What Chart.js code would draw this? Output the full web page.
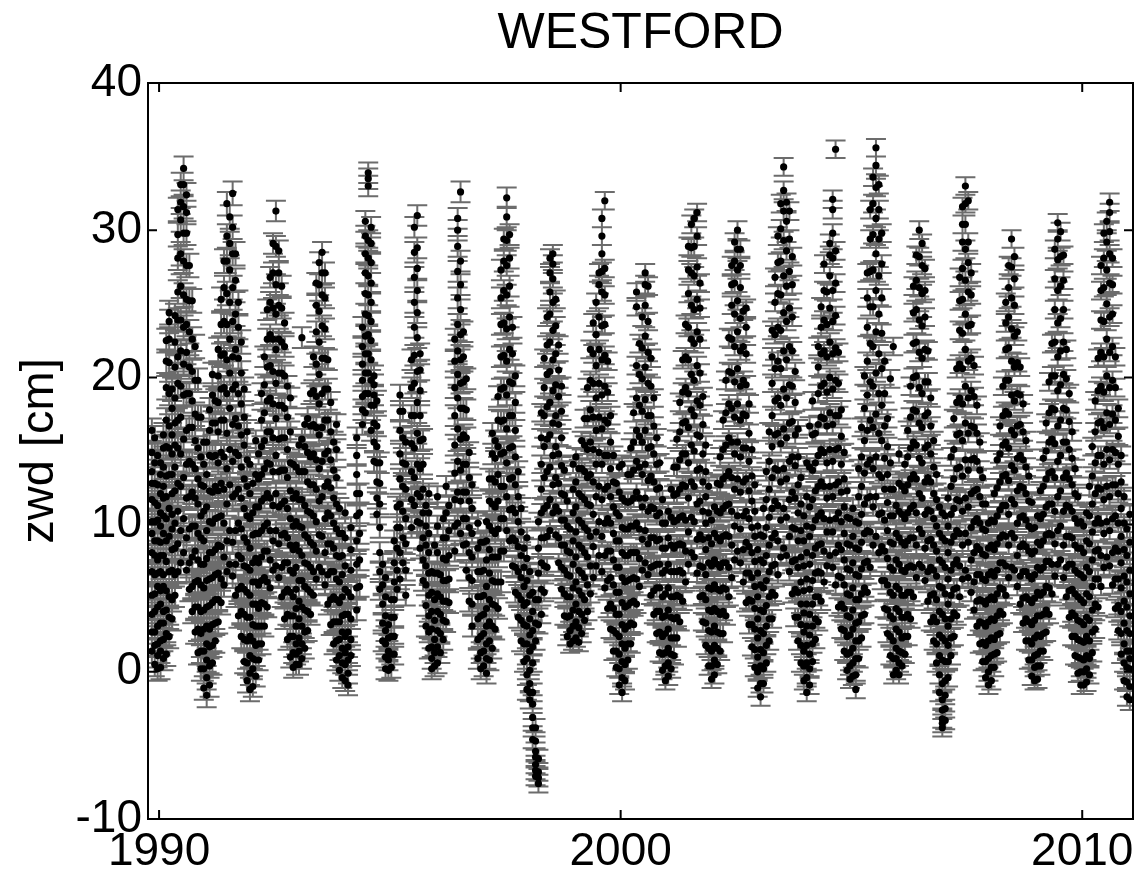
<!DOCTYPE html>
<html>
<head>
<meta charset="utf-8">
<script src="https://cdn.jsdelivr.net/npm/chart.js@4"></script>
<style>
  html, body { margin: 0; background: #fff; }
  #wrap { width: 1146px; height: 881px; }
</style>
</head>
<body>
<div id="wrap"><canvas id="chart"></canvas></div>
<script>
// zwd values in mm, one array per year,
// each year split in 16 slots, slot i sits at year + (i + 0.5) / 16
const zwd1989 = [[],[],[],[],[],[],[],[],[],[],[],[],[],
  [14, 27, 39, 52, 68, 81, 94, 102, 117, 128, 136, 149, 164],
  [5, 18, 27, 41, 53, 66, 79, 89, 102, 115, 128, 142, 159],
  [2, 11, 19, 31, 44, 58, 67, 76, 89, 103, 113, 127, 147]];
const zwd1990 = [
  [3, 14, 21, 33, 46, 55, 68, 79, 88, 99, 108, 121, 134, 142],
  [9, 22, 33, 41, 58, 66, 79, 94, 106, 118, 126, 139, 152, 161],
  [12, 26, 42, 55, 75, 89, 104, 119, 133, 153, 171, 193, 211, 225],
  [24, 37, 51, 68, 92, 111, 134, 152, 167, 189, 210, 226, 238, 244],
  [36, 49, 69, 83, 97, 107, 121, 134, 148, 161, 179, 192],
  [52, 66, 84, 101, 123, 139, 154, 169, 186, 207, 224, 242],
  [68, 87, 109, 128, 152, 171, 196, 214, 239, 258, 281, 297, 314],
  [74, 96, 126, 148, 173, 194, 218, 239, 262, 284, 307, 319, 331],
  [81, 104, 132, 158, 188, 209, 234, 256, 279, 298, 316, 331, 342],
  [69, 91, 118, 141, 164, 189, 217, 236, 253, 276, 298, 312, 324],
  [56, 74, 97, 119, 143, 166, 189, 207, 231, 252, 276],
  [41, 58, 78, 99, 122, 141, 166, 184, 204, 226, 252],
  [27, 44, 61, 82, 99, 118, 138, 157, 175, 198, 221],
  [13, 29, 44, 62, 76, 94, 114, 131, 152, 173, 198],
  [2, 14, 26, 41, 59, 73, 91, 106, 127, 146, 173],
  [-11, 2, 14, 29, 42, 57, 73, 89, 109, 126, 141, 156]];
const zwd1991 = [
  [-16, -4, 8, 19, 31, 44, 62, 77, 96, 112, 134, 156],
  [-9, 4, 17, 29, 45, 63, 81, 102, 123, 147, 164, 178],
  [6, 18, 32, 47, 64, 81, 101, 122, 146, 169, 188, 202],
  [21, 33, 49, 66, 83, 104, 126, 147, 169, 184],
  [34, 49, 67, 86, 105, 123, 142, 163, 183, 201, 219],
  [47, 63, 85, 106, 128, 149, 171, 192, 215, 236, 253],
  [59, 78, 101, 124, 146, 171, 193, 216, 238, 261, 279],
  [68, 89, 114, 138, 162, 189, 212, 236, 257, 279, 296, 318],
  [73, 96, 127, 151, 179, 203, 226, 251, 273, 291, 309],
  [65, 88, 119, 143, 168, 192, 214, 238, 261, 284, 302, 325],
  [52, 73, 96, 121, 149, 172, 195, 219, 243, 266, 284],
  [38, 56, 79, 101, 124, 147, 167, 189, 213, 234, 251],
  [24, 41, 58, 77, 97, 118, 139, 161, 182, 203, 224],
  [7, 22, 39, 56, 72, 91, 111, 131, 154, 173, 192],
  [-6, 6, 21, 37, 54, 71, 88, 106, 126, 144, 163],
  [-12, -1, 11, 24, 37, 52, 69, 84, 104, 121, 141]];
const zwd1992 = [
  [-10, 2, 9, 21, 32, 46, 61, 74, 93, 108, 128],
  [-3, 8, 18, 31, 46, 61, 77, 94, 112, 134, 157],
  [8, 19, 31, 43, 59, 74, 94, 112, 131, 148],
  [19, 31, 47, 62, 78, 96, 116, 134, 153, 171, 189],
  [31, 46, 64, 82, 99, 118, 138, 157, 176, 195, 214],
  [44, 61, 82, 101, 121, 142, 163, 184, 207, 226, 246],
  [57, 76, 96, 118, 141, 163, 186, 208, 229, 251, 268],
  [69, 89, 113, 136, 159, 182, 204, 226, 247, 271, 291],
  [72, 96, 121, 147, 172, 196, 219, 243, 263, 289, 313],
  [64, 87, 112, 136, 158, 181, 203, 226, 249, 271, 286],
  [51, 71, 93, 114, 137, 159, 181, 203, 224, 247, 262],
  [36, 54, 74, 94, 116, 137, 159, 179, 201, 221, 237],
  [22, 39, 56, 74, 91, 111, 132, 151, 173, 194],
  [10, 24, 38, 54, 69, 86, 104, 123, 142, 163, 186],
  [3, 13, 24, 38, 51, 67, 83, 99, 118, 141],
  [5, 12, 19, 31, 43, 56, 71, 86, 102, 121, 139]];
const zwd1993 = [
  [5, 14, 23, 36, 48, 62, 82, 99, 117, 136, 154],
  [9, 19, 31, 44, 62, 79, 98, 117, 136, 158, 227],
  [16, 27, 42, 58, 74, 93, 113, 136, 153, 168],
  [28, 41, 56, 73, 91, 109, 129, 149, 172],
  [39, 54, 71, 88, 108, 127, 146, 167, 189],
  [52, 68, 86, 106, 127, 148, 168, 191, 214],
  [63, 82, 102, 124, 144, 166, 187, 209, 231, 249, 264],
  [71, 93, 116, 138, 161, 182, 202, 224, 245, 263, 278],
  [68, 92, 119, 143, 166, 189, 213, 235, 256, 271, 285],
  [59, 81, 104, 126, 148, 171, 192, 213, 233, 254, 271],
  [46, 66, 87, 108, 129, 150, 171, 192, 212],
  [32, 49, 68, 87, 106, 125, 144, 163, 183],
  [19, 34, 51, 68, 84, 101, 118, 137, 156],
  [8, 21, 34, 49, 63, 79, 97, 114, 132, 151, 168],
  [1, 11, 22, 34, 47, 61, 78, 94, 111],
  [-4, 6, 16, 27, 38, 51, 66, 79, 94]];
const zwd1994 = [
  [-6, 5, 13, 24, 39, 56, 72, 91, 108],
  [-9, -1, 8, 17, 27, 39, 54],
  [11, 22, 36, 51, 69, 83, 98],
  [],
  [42, 57, 73, 89, 106, 121, 134, 147, 159],
  [58, 76, 94, 108, 121],
  [168, 178, 187, 198, 209, 221, 234],
  [176, 189, 203, 216, 228, 243, 257, 271, 284, 296, 306],
  [189, 203, 216, 229, 242, 256, 269, 281, 293, 330, 335, 339],
  [164, 181, 198, 212, 225, 238, 251, 264, 278, 291, 302],
  [143, 156, 169, 181, 188, 195, 201],
  [107, 118, 129, 142, 153, 167, 184],
  [56, 68, 81, 98, 114, 128, 142],
  [21, 33, 46, 59, 73],
  [2, 10, 19, 28, 38, 51, 64],
  [1, 8, 14, 23, 32]];
const zwd1995 = [
  [3, 12, 24, 37, 49],
  [12, 24, 37, 49, 61, 74, 89],
  [56, 69, 84, 98, 112],
  [63, 81, 98, 114, 131, 148, 164, 177, 188],
  [74, 91, 109, 126, 142, 159, 177],
  [52, 69, 87, 104, 124, 141, 156],
  [],
  [98, 117, 136, 155, 174, 193, 212],
  [113, 132, 152, 174, 196, 215, 234, 251, 268, 285, 302],
  [102, 121, 141, 162, 183, 204, 227, 244, 259, 274, 288, 310],
  [84, 101, 119, 138, 157, 174, 191, 205, 216],
  [62, 76, 91, 108, 124, 141, 158],
  [31, 45, 59, 72, 86, 99, 113],
  [16, 27, 38, 52, 67, 81, 94, 108, 121],
  [2, 9, 17, 29, 41, 54, 68],
  [4, 13, 22, 35, 49, 67, 86]];
const zwd1996 = [
  [6, 17, 28, 41, 53, 67, 81, 99, 119],
  [13, 26, 39, 51, 66],
  [22, 35, 48, 62, 77, 91, 104],
  [34, 48, 62, 76, 91, 108, 126],
  [47, 63, 79, 96, 113],
  [],
  [82, 99, 117, 135, 154, 174, 193, 211, 226],
  [101, 122, 143, 165, 186, 202, 218, 236, 254, 272, 289, 300, 308],
  [94, 116, 137, 158, 179, 196, 212, 229, 246, 263, 279, 326],
  [86, 104, 122, 141, 161, 179, 197, 214, 231],
  [69, 87, 104, 122, 141, 159, 178, 199],
  [48, 64, 81, 98, 116, 132, 149],
  [31, 46, 62, 78, 94, 111, 127],
  [],
  [9, 22, 36, 51, 68, 84, 101],
  [2, 13, 24, 38, 51, 68, 88]];
const zwd1997 = [
  [4, 14, 26, 39, 52, 69, 88],
  [-1, 9, 19, 31, 43, 58, 76, 89, 102],
  [8, 21, 34, 49, 67, 83, 99, 116, 131],
  [16, 31, 46, 62, 78, 96, 114, 131, 148, 162],
  [29, 45, 61, 78, 94, 112, 129, 145, 157],
  [43, 61, 78, 97, 116, 134, 153, 171, 187],
  [61, 82, 104, 126, 148, 170, 192, 214, 236, 254, 273],
  [82, 104, 126, 149, 171, 193, 215, 237, 259, 279, 294],
  [96, 119, 142, 165, 188, 211, 233, 256, 276, 293, 309, 322],
  [89, 110, 131, 152, 174, 197, 219, 241, 262, 281, 297],
  [72, 91, 111, 132, 153, 174, 196, 216, 234],
  [54, 71, 89, 108, 127, 146, 164, 183, 201],
  [37, 52, 68, 85, 102, 119, 136],
  [21, 35, 49, 64, 79, 95, 111],
  [7, 19, 32, 45, 58, 71, 84],
  [-12, -2, 9, 19, 31, 47, 62, 77, 91]];
const zwd1998 = [
  [-19, -14, -8, 1, 14, 25, 36, 52, 68],
  [-46, -38, -31, -22, -14, 6, 17, 28, 41, 54],
  [-71, -67, -63, -58, -54, -47, -38, 21, 33, 49],
  [-76, -72, -68, -59, 32, 49, 67, 84, 102],
  [39, 56, 74, 91, 108, 124, 141, 159, 176],
  [54, 72, 91, 111, 132, 153, 174, 193, 213],
  [71, 92, 113, 136, 158, 180, 202, 222, 241],
  [96, 117, 139, 161, 183, 204, 224, 243, 258, 271, 281],
  [108, 127, 147, 169, 191, 212, 232, 251, 267, 277, 284],
  [93, 112, 132, 153, 174, 195, 216, 235, 253],
  [74, 91, 109, 128, 148, 168, 187, 205, 222],
  [56, 71, 86, 103, 121, 140, 159, 177, 194],
  [38, 53, 69, 86, 103, 120, 137],
  [24, 37, 51, 66, 82, 99, 116],
  [19, 28, 38, 51, 65, 81, 97],
  [21, 31, 42, 57, 73, 89, 108, 124, 141]];
const zwd1999 = [
  [23, 34, 46, 61, 78, 95, 112, 129, 146],
  [20, 30, 41, 55, 69, 86, 103, 121, 138],
  [26, 39, 52, 67, 84, 101, 119, 138, 157],
  [35, 49, 64, 81, 98, 117, 136, 154, 172],
  [41, 59, 78, 96, 114, 132, 151, 172, 193],
  [53, 72, 92, 113, 134, 156, 178, 198, 219],
  [64, 85, 107, 129, 151, 173, 196, 216, 237],
  [72, 95, 119, 141, 164, 186, 208, 229, 251],
  [79, 102, 126, 149, 173, 196, 219, 241, 263, 271],
  [68, 92, 117, 141, 165, 188, 212, 235, 258, 272, 284, 296, 308],
  [57, 79, 101, 124, 147, 171, 194, 215, 236, 256, 274, 320],
  [43, 62, 82, 104, 126, 147, 169, 190, 211],
  [29, 46, 64, 82, 101, 119, 138, 156, 174],
  [14, 28, 43, 59, 76, 94, 112, 129, 147],
  [3, 14, 26, 39, 54, 71, 89, 108, 128],
  [-9, 2, 12, 24, 39, 54, 71, 89, 106, 122, 139]];
const zwd2000 = [
  [-14, -4, 7, 19, 32, 47, 64, 81, 98, 118, 141],
  [-6, 5, 16, 29, 44, 61, 79, 97, 116],
  [8, 19, 31, 45, 62, 79, 97, 115, 134],
  [19, 33, 47, 63, 81, 99, 116, 134, 152],
  [32, 48, 64, 81, 99, 118, 137, 156, 176],
  [46, 63, 81, 101, 122, 143, 164, 186, 208, 248, 258],
  [58, 77, 97, 118, 139, 160, 181, 202, 223],
  [69, 90, 112, 134, 156, 177, 199, 220, 241],
  [74, 96, 118, 141, 164, 185, 207, 228, 249, 263, 271],
  [66, 87, 109, 130, 152, 174, 196, 217, 238, 262],
  [52, 71, 91, 112, 133, 153, 174, 194, 213],
  [39, 55, 72, 91, 111, 129, 148, 167, 186],
  [26, 41, 57, 73, 89, 106, 124, 141, 159],
  [13, 27, 41, 57, 73, 90, 108, 125, 142],
  [1, 12, 24, 37, 51, 67, 84, 101, 117],
  [-6, 4, 13, 26, 38, 53, 69, 84, 101]];
const zwd2001 = [
  [-3, 6, 16, 29, 42, 57, 73, 91, 109],
  [2, 12, 23, 37, 51, 68, 86, 105, 124],
  [11, 23, 36, 51, 68, 84, 102, 120, 139],
  [23, 37, 52, 68, 86, 103, 121, 139, 158],
  [34, 51, 69, 87, 105, 124, 144, 163, 183],
  [48, 67, 86, 106, 127, 148, 169, 190, 212],
  [61, 82, 103, 126, 148, 170, 193, 214, 236],
  [73, 95, 118, 142, 166, 189, 212, 234, 257, 273, 289],
  [81, 105, 129, 154, 178, 202, 226, 249, 271, 288, 304],
  [78, 102, 126, 150, 174, 198, 223, 246, 269, 289, 308],
  [67, 90, 114, 137, 161, 184, 208, 231, 253, 275, 296, 312],
  [51, 72, 93, 116, 138, 160, 181, 203, 226, 247, 264],
  [34, 52, 71, 90, 109, 129, 148, 168, 187],
  [18, 33, 49, 66, 83, 101, 119, 136, 154],
  [4, 16, 28, 42, 57, 74, 91, 108, 126],
  [-5, 4, 14, 27, 41, 56, 72, 87, 103]];
const zwd2002 = [
  [-2, 8, 18, 31, 43, 59, 76, 94, 112],
  [5, 16, 27, 41, 56, 73, 91, 109, 128],
  [14, 26, 39, 55, 71, 89, 108, 127, 146],
  [26, 41, 57, 74, 92, 111, 131, 151, 171],
  [38, 56, 74, 93, 113, 133, 154, 176, 198],
  [51, 71, 92, 114, 136, 159, 182, 204, 227],
  [64, 86, 109, 132, 156, 179, 203, 226, 249, 263, 276],
  [76, 99, 124, 148, 173, 197, 221, 243, 264, 279, 292],
  [82, 106, 131, 156, 182, 206, 231, 252, 273, 287, 300],
  [74, 97, 122, 146, 171, 194, 218, 240, 261, 276, 287],
  [61, 83, 106, 129, 152, 175, 198, 221, 245],
  [47, 67, 88, 109, 131, 152, 174, 195, 216, 234, 247],
  [32, 49, 67, 85, 104, 123, 143, 162, 182],
  [17, 32, 48, 64, 81, 98, 116, 133, 151],
  [3, 15, 29, 43, 58, 75, 92, 109, 127],
  [-11, 0, 10, 23, 36, 51, 67, 83, 99]];
const zwd2003 = [
  [-17, -8, 4, 15, 28, 42, 59, 76, 93],
  [-8, 2, 13, 26, 41, 57, 74, 92, 111],
  [6, 18, 31, 45, 62, 79, 98, 117, 136],
  [21, 36, 51, 68, 86, 105, 124, 143, 163],
  [36, 54, 72, 91, 111, 132, 153, 174, 196, 214, 232],
  [52, 73, 94, 116, 138, 161, 184, 206, 229, 251, 268],
  [66, 89, 113, 137, 162, 186, 211, 234, 257, 278, 296],
  [78, 103, 129, 155, 181, 206, 232, 256, 279, 301, 318],
  [84, 111, 138, 165, 192, 218, 244, 269, 293, 313, 327, 343],
  [79, 105, 131, 159, 186, 212, 238, 262, 286, 306, 319],
  [68, 92, 117, 143, 169, 195, 221, 247, 272, 294, 313],
  [53, 75, 98, 122, 146, 170, 194, 218, 241, 263, 282],
  [37, 56, 76, 97, 118, 140, 161, 183, 204],
  [21, 37, 54, 71, 89, 108, 127, 146, 165],
  [6, 18, 32, 46, 61, 78, 96, 114, 132],
  [-6, 4, 14, 27, 40, 55, 72, 89, 106]];
const zwd2004 = [
  [-14, -4, 6, 18, 31, 46, 63, 81, 99, 119, 142],
  [-9, 2, 12, 25, 39, 56, 73, 92, 112, 139, 167],
  [7, 19, 31, 46, 62, 79, 98, 117, 137, 161, 184],
  [22, 36, 51, 67, 84, 103, 123, 142, 162],
  [34, 51, 68, 86, 106, 126, 147, 168, 189, 207, 221],
  [48, 67, 87, 108, 129, 151, 173, 194, 216, 234, 248],
  [61, 82, 104, 126, 149, 172, 196, 218, 239, 259, 277],
  [72, 95, 118, 142, 167, 190, 214, 236, 258],
  [79, 103, 126, 151, 176, 200, 224, 247, 269, 283, 291],
  [71, 95, 119, 143, 168, 192, 216, 238, 259, 281, 298, 314, 321],
  [59, 81, 104, 127, 151, 174, 198, 220, 242, 264, 286, 355],
  [44, 65, 86, 108, 129, 152, 174, 196, 217],
  [29, 46, 64, 83, 102, 122, 141, 160, 178],
  [14, 28, 43, 59, 76, 94, 112, 131, 149],
  [1, 12, 24, 38, 53, 70, 87, 105, 123],
  [-5, 4, 13, 25, 37, 52, 69, 86, 104]];
const zwd2005 = [
  [-3, 6, 16, 29, 42, 57, 74, 92, 111],
  [-12, -2, 9, 21, 33, 49, 66, 84, 102],
  [9, 21, 34, 49, 65, 83, 101, 119, 138],
  [23, 38, 53, 70, 88, 107, 126, 146, 166],
  [39, 57, 74, 94, 114, 135, 157, 179, 201],
  [54, 75, 96, 118, 141, 164, 188, 211, 234, 254, 271],
  [71, 95, 119, 144, 171, 197, 223, 248, 272, 294, 314],
  [86, 112, 138, 166, 194, 221, 248, 273, 297, 318, 336],
  [92, 119, 146, 175, 203, 231, 259, 284, 308, 329, 344, 356],
  [81, 107, 134, 162, 189, 216, 243, 269, 294, 314, 331],
  [62, 85, 108, 132, 157, 181, 206, 230, 254, 277, 298],
  [43, 62, 82, 103, 124, 145, 167, 189, 211],
  [26, 42, 59, 77, 96, 115, 134, 153, 172],
  [11, 24, 38, 54, 71, 88, 106, 124, 142, 199],
  [-2, 9, 21, 36, 52, 69, 87, 106, 124, 221],
  [1, 9, 16, 29, 43, 58, 76, 94, 113]];
const zwd2006 = [
  [-2, 6, 14, 27, 41, 56, 73, 91, 109, 128, 148],
  [4, 13, 23, 37, 52, 69, 88, 107, 126],
  [12, 24, 37, 52, 68, 86, 104, 123, 141],
  [24, 39, 54, 71, 89, 108, 127, 146, 164],
  [36, 54, 72, 91, 111, 131, 152, 173, 194],
  [51, 71, 91, 113, 134, 156, 178, 200, 223, 244, 262],
  [64, 86, 108, 131, 154, 177, 201, 224, 246, 266, 283],
  [73, 97, 121, 145, 169, 193, 217, 239, 261, 282, 300],
  [71, 94, 118, 142, 166, 189, 213, 235, 257, 276, 291],
  [62, 84, 107, 129, 152, 174, 197, 219, 241, 259, 274],
  [48, 68, 89, 110, 132, 154, 176, 197, 218],
  [34, 52, 71, 90, 109, 129, 148, 167, 186],
  [21, 37, 53, 69, 86, 104, 121, 139, 157],
  [6, 19, 34, 49, 65, 82, 99, 117, 134],
  [-14, -2, 11, 25, 41, 58, 76, 94, 112],
  [-38, -35, -32, -26, -19, -8, 8, 23, 39, 57, 74, 91, 108]];
const zwd2007 = [
  [-33, -25, -16, -6, 7, 21, 36, 53, 71, 89, 106],
  [-4, 7, 18, 31, 46, 63, 81, 99, 118],
  [11, 23, 36, 52, 69, 88, 107, 126, 146],
  [24, 40, 56, 73, 92, 111, 131, 151, 172],
  [38, 57, 76, 96, 117, 138, 161, 183, 206],
  [51, 72, 94, 116, 139, 162, 186, 209, 232, 252, 268],
  [63, 86, 109, 133, 157, 182, 206, 230, 253, 274, 292, 304, 316],
  [69, 94, 118, 144, 169, 194, 219, 243, 266, 287, 304, 318, 330],
  [64, 88, 112, 137, 162, 186, 211, 235, 258, 278, 292, 320],
  [54, 76, 98, 121, 144, 167, 191, 213, 236, 256, 271],
  [42, 61, 81, 102, 123, 145, 166, 187, 208],
  [31, 48, 66, 85, 104, 124, 143, 162, 181],
  [19, 34, 49, 66, 83, 101, 119, 137, 156],
  [7, 20, 33, 48, 63, 80, 97, 114, 132],
  [-4, 7, 18, 31, 46, 62, 79, 96, 114],
  [-9, 0, 9, 21, 34, 49, 66, 84, 101]];
const zwd2008 = [
  [-6, 3, 11, 23, 36, 51, 68, 86, 103],
  [3, 12, 22, 35, 49, 65, 83, 102, 121],
  [13, 25, 38, 53, 69, 87, 106, 125, 144],
  [26, 41, 57, 74, 91, 110, 129, 148, 167],
  [39, 56, 74, 93, 113, 133, 154, 174, 194],
  [52, 72, 92, 113, 134, 156, 177, 198, 219, 237, 251],
  [64, 86, 107, 130, 152, 175, 198, 220, 241, 261, 276],
  [71, 94, 117, 140, 164, 188, 211, 233, 254, 275, 294],
  [69, 91, 114, 137, 161, 184, 207, 228, 249, 267, 282],
  [58, 79, 101, 123, 145, 167, 189, 210, 231],
  [46, 65, 85, 105, 126, 147, 168, 188, 207],
  [33, 50, 68, 87, 106, 125, 144, 163, 182],
  [21, 36, 51, 68, 85, 103, 121, 139, 157],
  [8, 21, 34, 49, 65, 82, 99, 116, 133],
  [-3, 8, 19, 32, 47, 63, 80, 97, 115],
  [-6, 3, 11, 23, 35, 50, 66, 82, 98]];
const zwd2009 = [
  [-5, 4, 12, 25, 38, 54, 71, 88, 106],
  [4, 14, 24, 38, 52, 69, 86, 104, 123],
  [14, 26, 39, 54, 71, 89, 107, 126, 145],
  [27, 42, 58, 75, 93, 112, 131, 150, 169],
  [39, 57, 75, 94, 114, 135, 156, 176, 197],
  [53, 73, 93, 114, 136, 158, 179, 201, 223],
  [65, 87, 109, 132, 155, 178, 201, 224, 246, 267, 287],
  [73, 96, 119, 143, 167, 191, 214, 237, 259, 280, 294, 305],
  [76, 99, 123, 147, 171, 195, 218, 240, 262, 282, 299],
  [64, 86, 109, 132, 156, 179, 202, 224, 246, 266, 283],
  [51, 71, 92, 113, 135, 156, 178, 199, 219],
  [37, 55, 73, 92, 112, 131, 151, 170, 189],
  [24, 40, 56, 73, 91, 109, 127, 145, 163],
  [11, 24, 38, 53, 69, 86, 104, 121, 138],
  [-1, 10, 22, 35, 51, 67, 84, 101, 119],
  [-9, 0, 9, 21, 34, 49, 66, 84, 102]];
const zwd2010 = [
  [-9, 0, 8, 20, 32, 47, 64, 81, 99],
  [-7, 2, 11, 24, 37, 53, 71, 89, 108],
  [-2, 9, 21, 35, 51, 68, 87, 106, 126],
  [13, 27, 42, 58, 76, 95, 114, 133, 153],
  [29, 46, 63, 82, 101, 121, 142, 163, 184],
  [44, 63, 83, 104, 125, 147, 169, 191, 213],
  [58, 79, 101, 124, 147, 170, 194, 217, 239, 259, 276],
  [71, 94, 117, 141, 166, 190, 214, 238, 261, 281, 298],
  [78, 102, 126, 151, 176, 201, 226, 250, 273, 292, 306],
  [72, 96, 119, 144, 168, 193, 217, 241, 264, 284, 299, 312, 319],
  [59, 81, 104, 127, 151, 175, 198, 221, 243, 263, 281],
  [43, 63, 84, 106, 127, 149, 171, 193, 214],
  [28, 45, 63, 82, 101, 121, 141, 160, 179],
  [12, 26, 41, 57, 74, 92, 111, 129, 147],
  [-6, 6, 19, 33, 48, 65, 83, 101, 119],
  [-17, -7, 3, 14, 28, 44, 61, 79, 97]];
const zwd2011 = [[-19, -10, 2, 9, 14, 26, 38, 53, 69, 88, 107]];

const years = [1989, 1990, 1991, 1992, 1993, 1994, 1995, 1996, 1997, 1998, 1999,
  2000, 2001, 2002, 2003, 2004, 2005, 2006, 2007, 2008, 2009, 2010, 2011];
const zwdByYear = [zwd1989, zwd1990, zwd1991, zwd1992, zwd1993, zwd1994, zwd1995, zwd1996,
  zwd1997, zwd1998, zwd1999, zwd2000, zwd2001, zwd2002, zwd2003, zwd2004, zwd2005, zwd2006,
  zwd2007, zwd2008, zwd2009, zwd2010, zwd2011];
// typical formal error [cm] per year
const sigmaByYear = [0.8, 0.8, 0.8, 0.7, 0.7, 0.7, 0.7, 0.7, 0.7, 0.6, 0.6,
  0.6, 0.6, 0.6, 0.6, 0.6, 0.6, 0.6, 0.6, 0.6, 0.6, 0.6, 0.7];

const xTicks = [1990, 2000, 2010];
const yTicks = [-10, 0, 10, 20, 30, 40];

let points = [];
years.forEach((yr, k) => {
    zwdByYear[k].forEach((session, i) => {
        session.forEach(mm => {
            points.push({ x: yr + (i + 0.5) / 16, y: mm / 10, e: sigmaByYear[k] });
        });
    });
});

const FONT = "'Liberation Sans', Arial, Helvetica, sans-serif";

// gray error bars with wide caps, drawn under the dots
const errorBars = {
    id: 'errorBars',
    beforeDatasetsDraw(chart) {
        const { ctx, chartArea, scales: { x, y } } = chart;
        ctx.save();
        ctx.beginPath();
        ctx.rect(chartArea.left, chartArea.top, chartArea.width, chartArea.height);
        ctx.clip();
        ctx.strokeStyle = '#6c6c6c';
        ctx.lineWidth = 2;
        ctx.beginPath();
        points.forEach(p => {
            const px = x.getPixelForValue(p.x);
            const top = y.getPixelForValue(p.y + p.e);
            const bot = y.getPixelForValue(p.y - p.e);
            ctx.moveTo(px, top); ctx.lineTo(px, bot);
            ctx.moveTo(px - 10, top); ctx.lineTo(px + 10, top);
            ctx.moveTo(px - 10, bot); ctx.lineTo(px + 10, bot);
        });
        ctx.stroke();
        ctx.restore();
    }
};

// box around the axes with inward ticks
const frame = {
    id: 'frame',
    afterDraw(chart) {
        const { ctx, chartArea: a, scales: { x, y } } = chart;
        ctx.save();
        ctx.strokeStyle = '#000';
        ctx.lineWidth = 2;
        ctx.strokeRect(a.left, a.top, a.right - a.left, a.bottom - a.top);
        ctx.beginPath();
        xTicks.forEach(t => {
            const px = x.getPixelForValue(t);
            ctx.moveTo(px, a.bottom); ctx.lineTo(px, a.bottom - 9);
            ctx.moveTo(px, a.top); ctx.lineTo(px, a.top + 9);
        });
        yTicks.forEach(t => {
            const py = y.getPixelForValue(t);
            ctx.moveTo(a.left, py); ctx.lineTo(a.left + 9, py);
            ctx.moveTo(a.right, py); ctx.lineTo(a.right - 9, py);
        });
        ctx.stroke();
        ctx.restore();
    }
};

new Chart(document.getElementById('chart'), {
    type: 'scatter',
    data: {
        datasets: [{
            data: points,
            backgroundColor: '#000',
            borderWidth: 0,
            pointRadius: 3.6,
            pointHoverRadius: 3.6
        }]
    },
    options: {
        responsive: true,
        maintainAspectRatio: false,
        animation: false,
        events: [],
        layout: { padding: { left: 0, right: 13, top: 0, bottom: 0 } },
        plugins: {
            legend: { display: false },
            tooltip: { enabled: false },
            title: {
                display: true,
                fullSize: false,
                text: 'WESTFORD',
                color: '#000',
                font: { family: FONT, size: 50, weight: 'normal' },
                padding: { top: 4, bottom: 19 }
            }
        },
        scales: {
            x: {
                type: 'linear',
                min: 1989.76,
                max: 2011.1,
                afterBuildTicks: s => { s.ticks = xTicks.map(v => ({ value: v })); },
                afterFit: s => { s.height = 62; },
                grid: { display: false, drawTicks: false },
                border: { display: false },
                ticks: {
                    color: '#000',
                    font: { family: FONT, size: 46 },
                    padding: 6,
                    maxRotation: 0,
                    autoSkip: false,
                    callback: v => String(v)
                }
            },
            y: {
                min: -10,
                max: 40,
                afterBuildTicks: s => { s.ticks = yTicks.map(v => ({ value: v })); },
                afterFit: s => { s.width = 148; },
                grid: { display: false, drawTicks: false },
                border: { display: false },
                title: {
                    display: true,
                    text: 'zwd [cm]',
                    color: '#000',
                    font: { family: FONT, size: 47 },
                    padding: { top: 12, bottom: 0 }
                },
                ticks: {
                    color: '#000',
                    font: { family: FONT, size: 46 },
                    padding: 6,
                    autoSkip: false,
                    callback: v => String(v)
                }
            }
        }
    },
    plugins: [errorBars, frame]
});
</script>
</body>
</html>
